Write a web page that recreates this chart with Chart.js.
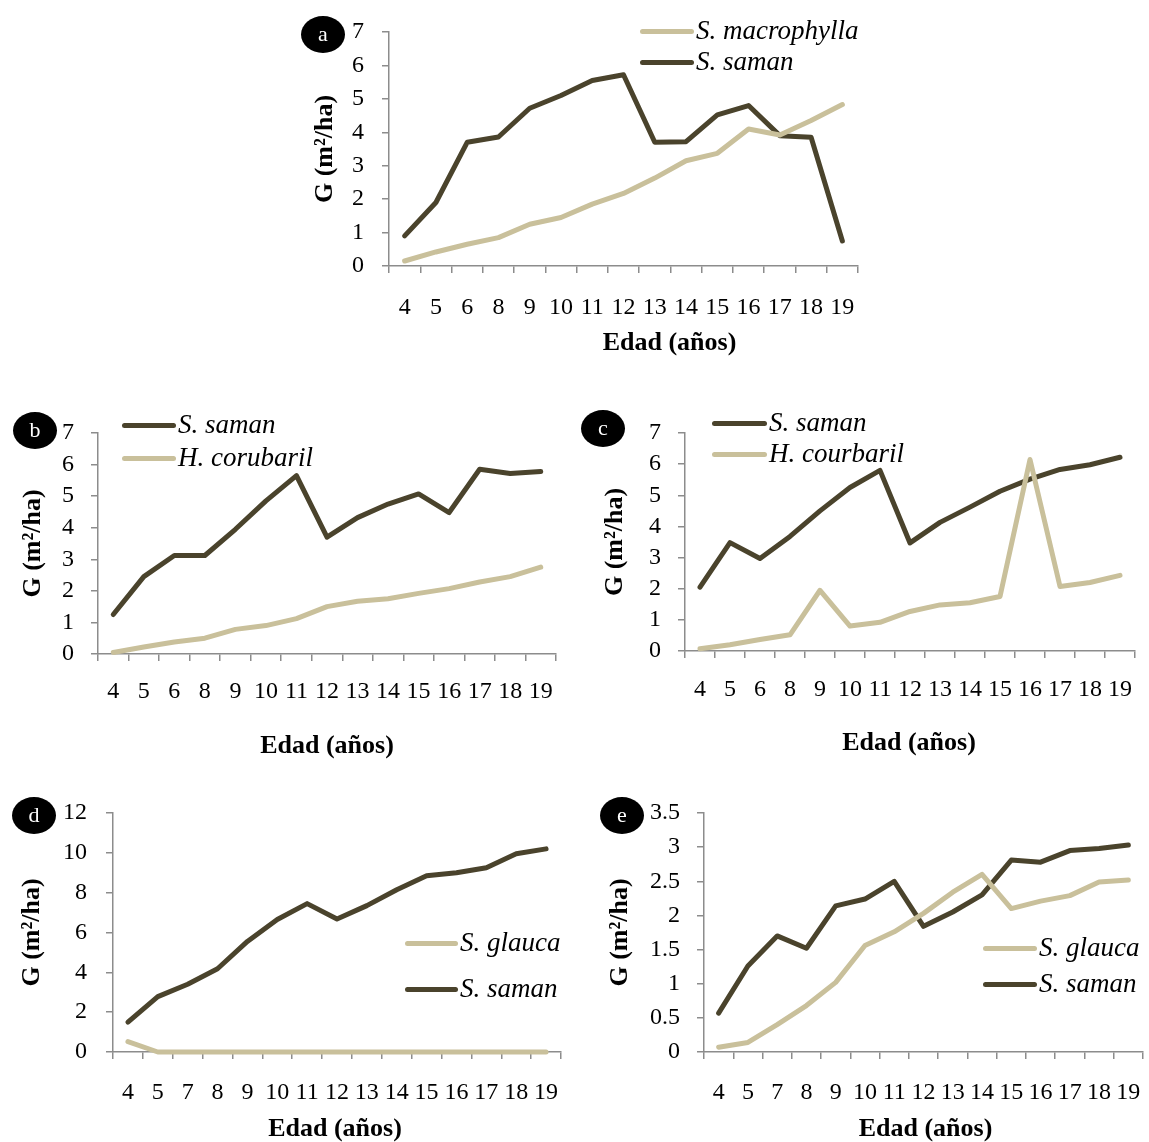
<!DOCTYPE html>
<html>
<head>
<meta charset="utf-8">
<script src="https://cdn.jsdelivr.net/npm/chart.js@4/dist/chart.umd.min.js"></script>
<style>
  html, body { margin: 0; padding: 0; background: #fff; }
  body { width: 1149px; height: 1142px; position: relative; overflow: hidden; font-family: "Liberation Serif", "DejaVu Serif", serif; }
  canvas { position: absolute; }
  .sw { position: absolute; height: 5px; border-radius: 3px; }
  .lt { position: absolute; font-style: italic; font-size: 27px; line-height: 30px; height: 30px; white-space: nowrap; color: #000; }
  .tag { position: absolute; width: 44px; height: 37px; border-radius: 50%; background: #000; color: #fff; font-size: 22px; line-height: 35px; text-align: center; }
</style>
</head>
<body>
<canvas id="ca"></canvas>
<canvas id="cb"></canvas>
<canvas id="cc"></canvas>
<canvas id="cd"></canvas>
<canvas id="ce"></canvas>
<script>
// ---- categories (age, years) ----
const agesABC = ['4','5','6','8','9','10','11','12','13','14','15','16','17','18','19'];
const agesDE  = ['4','5','7','8','9','10','11','12','13','14','15','16','17','18','19'];

// ---- series values, G (m²/ha) ----
const aMacrophylla = [0.15,0.42,0.65,0.85,1.25,1.45,1.85,2.17,2.63,3.15,3.37,4.10,3.92,4.35,4.83];
const aSaman       = [0.90,1.90,3.70,3.86,4.72,5.10,5.55,5.72,3.70,3.72,4.52,4.80,3.90,3.85,0.75];

const bSaman       = [1.25,2.45,3.12,3.12,3.95,4.85,5.65,3.70,4.32,4.75,5.07,4.48,5.85,5.72,5.78];
const bCorubaril   = [0.05,0.22,0.38,0.50,0.78,0.90,1.12,1.50,1.67,1.75,1.92,2.07,2.28,2.45,2.75];

const cSaman       = [2.05,3.48,2.97,3.68,4.50,5.25,5.80,3.47,4.13,4.62,5.13,5.52,5.83,5.98,6.22];
const cCourbaril   = [0.07,0.20,0.37,0.52,1.95,0.80,0.92,1.27,1.48,1.55,1.75,6.15,2.07,2.20,2.43];

const dGlauca      = [0.52,0,0,0,0,0,0,0,0,0,0,0,0,0,0];
const dSaman       = [1.50,2.78,3.40,4.18,5.55,6.65,7.45,6.68,7.35,8.15,8.85,9.00,9.25,9.95,10.20];

const eGlauca      = [0.07,0.14,0.40,0.68,1.02,1.56,1.76,2.03,2.34,2.60,2.10,2.21,2.29,2.49,2.52];
const eSaman       = [0.57,1.26,1.70,1.52,2.14,2.24,2.50,1.84,2.05,2.30,2.81,2.78,2.95,2.98,3.03];

// ---- axis ranges ----
const yMaxA = 7,  yStepA = 1;
const yMaxB = 7,  yStepB = 1;
const yMaxC = 7,  yStepC = 1;
const yMaxD = 12, yStepD = 2;
const yMaxE = 3.5, yStepE = 0.5;

// ---- text ----
const xTitle = 'Edad (años)';
const yTitle = 'G (m²/ha)';

// ---- styles ----
const DARK = '#4a432c';
const LIGHT = '#c9c09b';
const AXIS = '#8c8c8c';
const FONT = '"Liberation Serif", "DejaVu Serif", serif';

const xTitlePlugin = {
  id: 'xTitleText',
  afterDraw(chart, args, opts) {
    const { ctx, chartArea } = chart;
    ctx.save();
    ctx.font = 'bold 26px ' + FONT;
    ctx.fillStyle = '#000';
    ctx.textAlign = 'center';
    ctx.textBaseline = 'middle';
    ctx.fillText(xTitle, (chartArea.left + chartArea.right) / 2 + opts.dx, opts.y);
    ctx.restore();
  }
};

function makeChart(id, box, area, labels, sets, yMax, yStep, pads) {
  const cv = document.getElementById(id);
  cv.width = box.w; cv.height = box.h;
  cv.style.left = box.x + 'px'; cv.style.top = box.y + 'px';
  cv.style.width = box.w + 'px'; cv.style.height = box.h + 'px';
  const yW = area.l - box.x;
  const xH = box.y + box.h - area.b;
  return new Chart(cv.getContext('2d'), {
    type: 'line',
    plugins: [xTitlePlugin],
    data: {
      labels: labels,
      datasets: sets.map(s => ({
        label: s.label, data: s.data, borderColor: s.color, backgroundColor: s.color,
        borderWidth: 5, pointRadius: 0, tension: 0, fill: false, clip: false,
        borderCapStyle: 'round', borderJoinStyle: 'round'
      }))
    },
    options: {
      responsive: false, animation: false, devicePixelRatio: 1,
      layout: { padding: { left: 0, top: area.t - box.y, right: box.x + box.w - area.r, bottom: 0 } },
      plugins: {
        legend: { display: false }, tooltip: { enabled: false },
        xTitleText: { dx: pads.titleDx, y: pads.titleY - box.y }
      },
      scales: {
        x: {
          type: 'category', offset: true,
          grid: { offset: true, drawOnChartArea: false, drawTicks: true, tickLength: 7, color: AXIS, lineWidth: 1.5 },
          border: { display: true, color: AXIS, width: 1.5 },
          ticks: { autoSkip: false, maxRotation: 0, minRotation: 0, padding: pads.xTick,
                   color: '#000', font: { family: FONT, size: 24 } },
          title: { display: false },
          afterFit: s => { s.height = xH; s.paddingLeft = 0; s.paddingRight = 0; }
        },
        y: {
          min: 0, max: yMax,
          grid: { drawOnChartArea: false, drawTicks: true, tickLength: 7, color: AXIS, lineWidth: 1.5 },
          border: { display: true, color: AXIS, width: 1.5 },
          ticks: { stepSize: yStep, autoSkip: false, maxTicksLimit: 30, padding: pads.yTick,
                   color: '#000', font: { family: FONT, size: 24 },
                   callback: v => String(Math.round(v * 100) / 100) },
          title: { display: true, text: yTitle, color: '#000',
                   font: { family: FONT, size: 26, weight: 'bold', lineHeight: 1 },
                   padding: { top: pads.yTitle, bottom: 0 } },
          afterFit: s => { s.width = yW; s.paddingTop = 0; s.paddingBottom = 0; }
        }
      }
    }
  });
}

makeChart('ca', {x:290, y:0, w:590, h:360}, {l:389, t:32, r:858, b:266}, agesABC,
  [{label:'S. macrophylla', data:aMacrophylla, color:LIGHT}, {label:'S. saman', data:aSaman, color:DARK}],
  yMaxA, yStepA, {xTick:20, yTick:18, yTitle:22, titleDx:46, titleY:343});

makeChart('cb', {x:0, y:400, w:575, h:365}, {l:98, t:433, r:556, b:654}, agesABC,
  [{label:'H. corubaril', data:bCorubaril, color:LIGHT}, {label:'S. saman', data:bSaman, color:DARK}],
  yMaxB, yStepB, {xTick:16.5, yTick:17, yTitle:20, titleDx:0, titleY:746});

makeChart('cc', {x:580, y:400, w:569, h:365}, {l:685, t:433, r:1135, b:651}, agesABC,
  [{label:'H. courbaril', data:cCourbaril, color:LIGHT}, {label:'S. saman', data:cSaman, color:DARK}],
  yMaxC, yStepC, {xTick:17.5, yTick:17, yTitle:22, titleDx:-1, titleY:743});

makeChart('cd', {x:0, y:790, w:580, h:352}, {l:113, t:813, r:561, b:1052}, agesDE,
  [{label:'S. glauca', data:dGlauca, color:LIGHT}, {label:'S. saman', data:dSaman, color:DARK}],
  yMaxD, yStepD, {xTick:19.5, yTick:19, yTitle:19, titleDx:-2, titleY:1129});

makeChart('ce', {x:590, y:790, w:559, h:352}, {l:704, t:813, r:1143, b:1052}, agesDE,
  [{label:'S. glauca', data:eGlauca, color:LIGHT}, {label:'S. saman', data:eSaman, color:DARK}],
  yMaxE, yStepE, {xTick:19.5, yTick:17, yTitle:17, titleDx:2, titleY:1129});

// ---- HTML legends and panel tags ----
function legendItem(x1, x2, cy, color, text) {
  const sw = document.createElement('div');
  sw.className = 'sw';
  sw.style.left = x1 + 'px'; sw.style.width = (x2 - x1) + 'px';
  sw.style.top = (cy - 2.5) + 'px'; sw.style.background = color;
  document.body.appendChild(sw);
  const t = document.createElement('div');
  t.className = 'lt';
  t.style.left = (x2 + 2) + 'px'; t.style.top = (cy - 16) + 'px';
  t.textContent = text;
  document.body.appendChild(t);
}
legendItem(640, 694, 31, LIGHT, 'S. macrophylla');
legendItem(640, 694, 62, DARK, 'S. saman');
legendItem(122, 176, 425, DARK, 'S. saman');
legendItem(122, 176, 458, LIGHT, 'H. corubaril');
legendItem(712, 767, 423, DARK, 'S. saman');
legendItem(712, 767, 454, LIGHT, 'H. courbaril');
legendItem(405, 458, 943, LIGHT, 'S. glauca');
legendItem(405, 458, 989, DARK, 'S. saman');
legendItem(983, 1037, 948, LIGHT, 'S. glauca');
legendItem(983, 1037, 984, DARK, 'S. saman');

function tag(cx, cy, letter) {
  const d = document.createElement('div');
  d.className = 'tag';
  d.style.left = (cx - 22) + 'px'; d.style.top = (cy - 18.5) + 'px';
  d.textContent = letter;
  document.body.appendChild(d);
}
tag(323, 34, 'a');
tag(35, 430, 'b');
tag(603, 428, 'c');
tag(34, 815, 'd');
tag(622, 815, 'e');
</script>
</body>
</html>
